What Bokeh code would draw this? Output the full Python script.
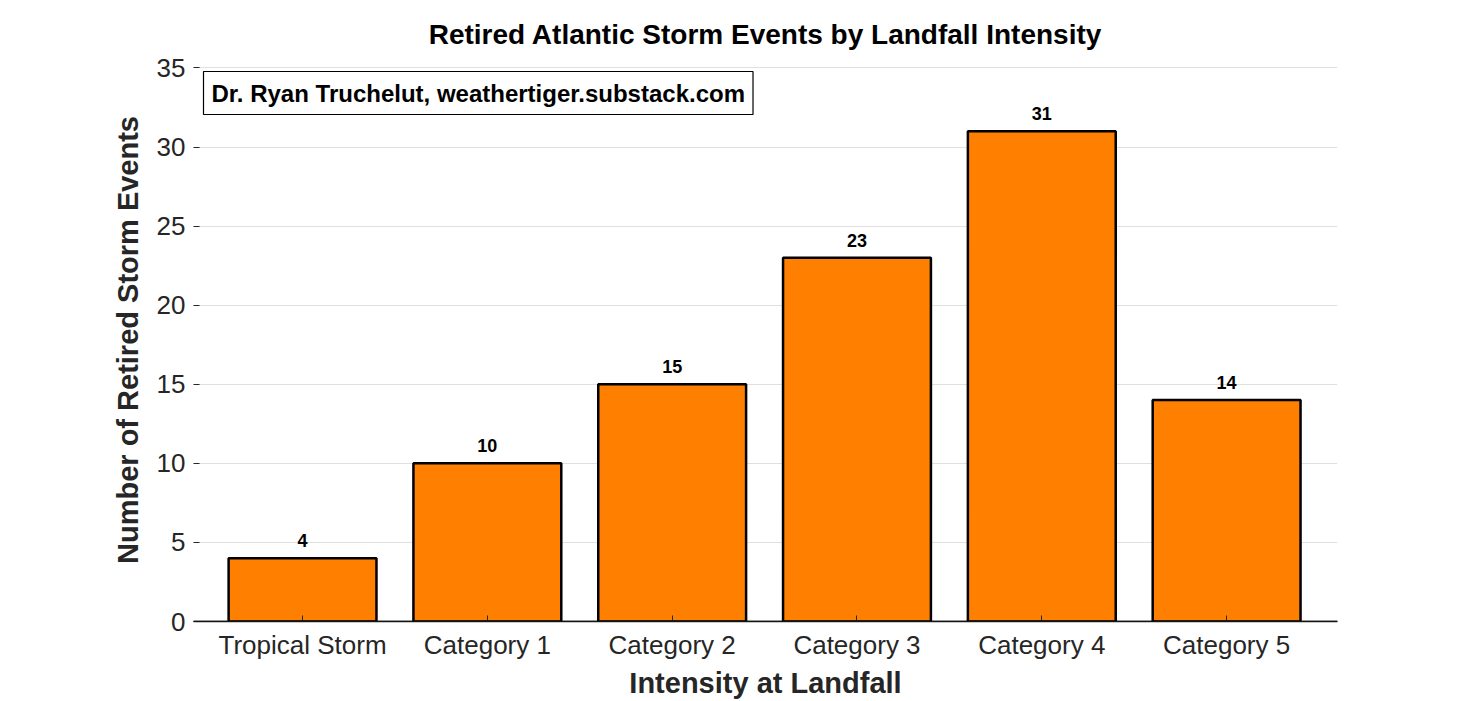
from bokeh.plotting import figure
from bokeh.models import ColumnDataSource, Label, FixedTicker, Span
from bokeh.core.properties import value
from bokeh.embed import file_html
from bokeh.resources import INLINE

categories = ["Tropical Storm", "Category 1", "Category 2", "Category 3", "Category 4", "Category 5"]
counts = [4, 10, 15, 23, 31, 14]
yticks = [0, 5, 10, 15, 20, 25, 30, 35]

F = "Liberation Sans"
xs = list(range(len(categories)))
src = ColumnDataSource(dict(x=xs, top=counts, lab=[str(c) for c in counts]))

p = figure(width=1469, height=701, output_backend="svg", toolbar_location=None,
           x_range=(-0.59, 5.6), y_range=(0, 35.6),
           min_border_left=193, min_border_right=132, min_border_top=58, min_border_bottom=80)
p.vbar(x="x", top="top", width=0.8, source=src, fill_color="#FF7F00", line_color="black", line_width=2.5)
p.text(x="x", y="top", text="lab", source=src, text_align="center", text_baseline="bottom",
       y_offset=-11, text_font_size="18px", text_font_style="bold", text_color="black", text_font=value(F))

p.title.text = "Retired Atlantic Storm Events by Landfall Intensity"
p.title.align = "center"
p.title.text_font_size = "28px"
p.title.text_font = F
p.title.text_color = "black"
p.title.text_font_style = "bold"
p.title.offset = 0
p.title.standoff = 18

p.xaxis.ticker = FixedTicker(ticks=xs)
p.xaxis.major_label_overrides = {i: c for i, c in enumerate(categories)}
p.yaxis.ticker = FixedTicker(ticks=yticks)
for ax in (p.xaxis, p.yaxis):
    ax.major_label_text_font = F
    ax.major_label_text_font_size = "26px"
    ax.major_label_text_color = "#262626"
    ax.axis_label_text_font = F
    ax.axis_label_text_font_size = "29px"
    ax.axis_label_text_font_style = "bold"
    ax.axis_label_text_color = "#262626"
    ax.axis_line_color = None
    ax.major_tick_in = 6
    ax.major_tick_out = 0
    ax.minor_tick_line_color = None
    ax.major_tick_line_color = "#262626"
p.xaxis.major_label_standoff = 8
p.xaxis.axis_label_standoff = 4
p.yaxis.major_label_standoff = 8
p.yaxis.axis_label_standoff = 10
p.xaxis.axis_label = "Intensity at Landfall"
p.yaxis.axis_label = "Number of Retired Storm Events"
p.xaxis.axis_line_color = "#262626"
p.xaxis.axis_line_width = 1.5
p.xgrid.grid_line_color = None
p.ygrid.grid_line_color = "#e0e0e0"
p.outline_line_color = None
p.add_layout(Span(location=0, dimension="width", line_color="black", line_width=1.5))

p.add_layout(Label(x=10, y=621 - 114, x_units="screen", y_units="screen",
                   text="Dr. Ryan Truchelut, weathertiger.substack.com",
                   text_font=F, text_font_size="24px", text_font_style="bold", text_color="black",
                   border_line_color="black", border_line_width=1.2,
                   background_fill_color="white", padding=8))
open("out.html", "w").write(file_html(p, INLINE))
